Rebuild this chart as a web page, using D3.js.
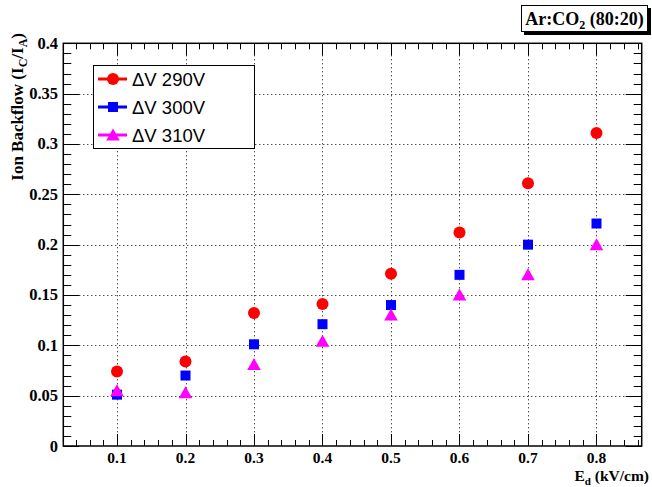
<!DOCTYPE html>
<html>
<head>
<meta charset="utf-8">
<script src="https://cdn.jsdelivr.net/npm/d3@7"></script>
<style>
  body { margin: 0; background: #fff; }
  svg { display: block; }
  .tick-label { font-family: "Liberation Serif", "Times New Roman", serif; font-weight: bold; }
</style>
</head>
<body>
<script>
// --- data
const fieldValues = [0.1, 0.2, 0.3, 0.4, 0.5, 0.6, 0.7, 0.8]
const ibf290 = [0.074, 0.084, 0.132, 0.141, 0.171, 0.212, 0.261, 0.311]
const ibf300 = [0.051, 0.070, 0.101, 0.121, 0.140, 0.170, 0.200, 0.221]
const ibf310 = [0.055, 0.053, 0.081, 0.104, 0.130, 0.150, 0.170, 0.200]
const seriesNames = ['ΔV 290V', 'ΔV 300V', 'ΔV 310V']
const xTicks = [0.1, 0.2, 0.3, 0.4, 0.5, 0.6, 0.7, 0.8]
const yTicks = [0, 0.05, 0.1, 0.15, 0.2, 0.25, 0.3, 0.35, 0.4]

const W = 652, H = 487
const frame = {left: 63.3, right: 641.7, top: 43.3, bottom: 446}

const svg = d3.select('body').append('svg')
    .attr('width', W).attr('height', H)

const x = d3.scaleLinear().domain([0.0216, 0.866]).range([frame.left, frame.right])
const y = d3.scaleLinear().domain([0, 0.4]).range([frame.bottom, frame.top])

const series = [
    {name: seriesNames[0], values: ibf290, color: '#ff0000', shape: 'circle'},
    {name: seriesNames[1], values: ibf300, color: '#0000ff', shape: 'square'},
    {name: seriesNames[2], values: ibf310, color: '#ff00ff', shape: 'triangle'}
]

// marker shapes, centred on 0,0
function markerPath(shape) {
    if (shape === 'circle') return d3.arc()({innerRadius: 0, outerRadius: 6, startAngle: 0, endAngle: 2 * Math.PI})
    if (shape === 'square') return 'M-5,-5H5V5H-5Z'
    return 'M0,-6.5L6.8,5.5H-6.8Z'
}

// --- grid
const grid = svg.append('g')
    .attr('stroke', '#000').attr('stroke-width', 1).attr('stroke-dasharray', '1,3')
grid.selectAll('line.gx').data(xTicks).join('line')
    .attr('x1', d => Math.round(x(d)) + 0.5).attr('x2', d => Math.round(x(d)) + 0.5)
    .attr('y1', frame.top).attr('y2', frame.bottom)
grid.selectAll('line.gy').data(yTicks.slice(1, -1)).join('line')
    .attr('x1', frame.left).attr('x2', frame.right)
    .attr('y1', d => Math.round(y(d)) + 0.5).attr('y2', d => Math.round(y(d)) + 0.5)

// --- ticks on all four sides
const xMinor = d3.range(0.04, 0.866, 0.02).filter(v => v > 0.0216)
const yMinor = d3.range(0, 0.4001, 0.01)
const ticks = svg.append('g').attr('stroke', '#000').attr('stroke-width', 1)
xMinor.forEach(v => {
    const major = xTicks.some(t => Math.abs(t - v) < 1e-6)
    const len = major ? 12 : 6
    const px = Math.round(x(v)) + 0.5
    ticks.append('line').attr('x1', px).attr('x2', px).attr('y1', frame.bottom).attr('y2', frame.bottom - len)
    ticks.append('line').attr('x1', px).attr('x2', px).attr('y1', frame.top).attr('y2', frame.top + len)
})
yMinor.forEach(v => {
    const major = yTicks.some(t => Math.abs(t - v) < 1e-6)
    const len = major ? 16 : 8
    const py = Math.round(y(v)) + 0.5
    ticks.append('line').attr('x1', frame.left).attr('x2', frame.left + len).attr('y1', py).attr('y2', py)
    ticks.append('line').attr('x1', frame.right).attr('x2', frame.right - len).attr('y1', py).attr('y2', py)
})

// frame
svg.append('rect')
    .attr('x', frame.left).attr('y', frame.top)
    .attr('width', frame.right - frame.left).attr('height', frame.bottom - frame.top)
    .attr('fill', 'none').attr('stroke', '#000').attr('stroke-width', 1.5)

// --- tick labels
const fmt = d => String(+d.toFixed(2))
svg.append('g').selectAll('text').data(xTicks).join('text')
    .attr('class', 'tick-label').style('font-size', '15.5px')
    .attr('x', d => x(d)).attr('y', 462.5)
    .attr('text-anchor', 'middle')
    .text(fmt)
svg.append('g').selectAll('text').data(yTicks).join('text')
    .attr('class', 'tick-label').style('font-size', '16.5px')
    .attr('x', 58).attr('y', d => y(d) + 5.5)
    .attr('text-anchor', 'end')
    .text(fmt)

// --- axis titles
const xTitle = svg.append('text')
    .attr('x', 649).attr('y', 481)
    .attr('text-anchor', 'end')
    .style('font-family', '"Liberation Serif", serif').style('font-weight', 'bold').style('font-size', '15.5px')
xTitle.append('tspan').text('E')
xTitle.append('tspan').attr('dy', 4).style('font-size', '11px').text('d')
xTitle.append('tspan').attr('dy', -4).text(' (kV/cm)')

const yTitle = svg.append('text')
    .attr('transform', 'translate(23,33) rotate(-90)')
    .attr('text-anchor', 'end')
    .style('font-family', '"Liberation Serif", serif').style('font-weight', 'bold').style('font-size', '17px')
yTitle.append('tspan').text('Ion Backflow (I')
yTitle.append('tspan').attr('dy', 4).style('font-size', '12px').text('C')
yTitle.append('tspan').attr('dy', -4).text('/I')
yTitle.append('tspan').attr('dy', 4).style('font-size', '12px').text('A')
yTitle.append('tspan').attr('dy', -4).text(')')

// --- points
series.forEach(s => {
    svg.append('g').selectAll('path').data(s.values).join('path')
        .attr('transform', (d, i) => `translate(${x(fieldValues[i])},${y(d)})`)
        .attr('d', markerPath(s.shape))
        .attr('fill', s.color)
})

// --- legend
const legend = svg.append('g').attr('transform', 'translate(93,65)')
legend.append('rect')
    .attr('x', 0.5).attr('y', 0.5).attr('width', 161).attr('height', 83)
    .attr('fill', '#fff').attr('stroke', '#000').attr('stroke-width', 1)
series.forEach((s, i) => {
    const row = legend.append('g').attr('transform', `translate(0,${14 + i * 28})`)
    row.append('line').attr('x1', 5).attr('x2', 34).attr('y1', 0).attr('y2', 0)
        .attr('stroke', s.color).attr('stroke-width', 3)
    row.append('path').attr('transform', 'translate(20,0)').attr('d', markerPath(s.shape)).attr('fill', s.color)
    row.append('text').attr('x', 39).attr('y', 6.5)
        .style('font-family', '"Liberation Sans", Arial, sans-serif').style('font-size', '18.5px')
        .text(s.name)
})

// --- title box with shadow
const tb = svg.append('g')
tb.append('rect').attr('x', 524).attr('y', 8).attr('width', 127).attr('height', 27).attr('fill', '#000')
tb.append('rect').attr('x', 521.5).attr('y', 5.5).attr('width', 126).attr('height', 26)
    .attr('fill', '#fff').attr('stroke', '#000').attr('stroke-width', 1)
const title = tb.append('text').attr('x', 584.5).attr('y', 25).attr('text-anchor', 'middle')
    .style('font-family', '"Liberation Serif", serif').style('font-weight', 'bold').style('font-size', '18px')
title.append('tspan').text('Ar:CO')
title.append('tspan').attr('dy', 4).style('font-size', '12px').text('2')
title.append('tspan').attr('dy', -4).text(' (80:20)')
</script>
</body>
</html>
